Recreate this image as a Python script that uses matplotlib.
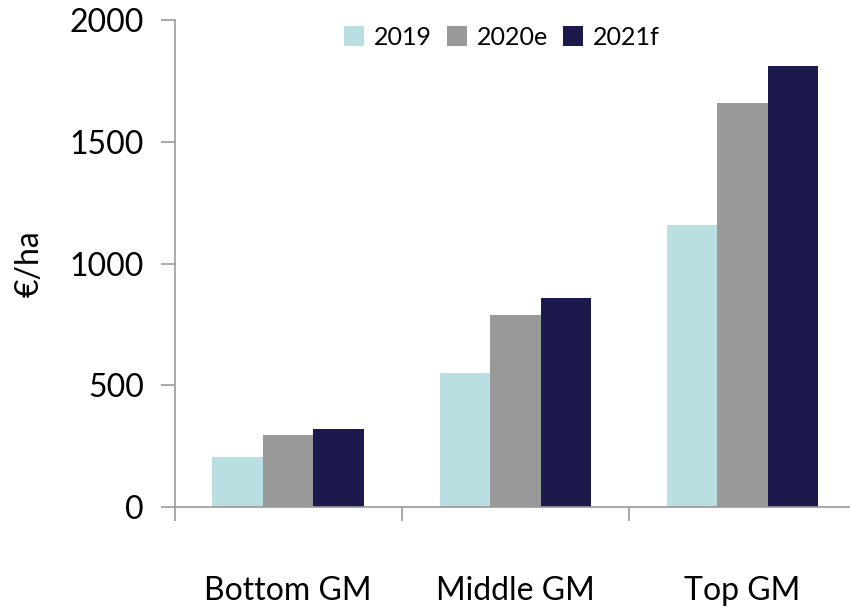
import matplotlib
matplotlib.use('Agg')
import matplotlib.pyplot as plt
import numpy as np

plt.rcParams['font.family'] = ['Lato', 'DejaVu Sans']

categories = ['Bottom GM', 'Middle GM', 'Top GM']
series = ['2019', '2020e', '2021f']
vals_2019 = [205, 550, 1160]
vals_2020e = [296, 790, 1660]
vals_2021f = [320, 860, 1810]
colors = ['#b9dfe2', '#999999', '#1c1a4d']

fig = plt.figure(figsize=(8.5, 6.1), dpi=100)
ax = fig.add_axes([0.2053, 0.1689, 0.802, 0.798])

x = np.arange(len(categories))
w = 0.222
for i, (name, vals) in enumerate(zip(series, [vals_2019, vals_2020e, vals_2021f])):
    ax.bar(x + (i - 1) * w, vals, width=w, color=colors[i], label=name)

ax.set_xlim(-0.5, 2.5)
ax.set_ylim(0, 2000)
ax.set_yticks([0, 500, 1000, 1500, 2000])
ax.set_xticks(x)
ax.set_xticklabels(categories)
ax.set_xticks([-0.5, 0.5, 1.5], minor=True)
ax.tick_params(axis='x', which='major', length=0, pad=50, labelsize=23)
ax.tick_params(axis='x', which='minor', length=10, color='#999999', width=1.2)
ax.tick_params(axis='y', length=10, color='#999999', width=1.2, pad=12, labelsize=23)

for s in ['top', 'right']:
    ax.spines[s].set_visible(False)
for s in ['left', 'bottom']:
    ax.spines[s].set_color('#999999')
    ax.spines[s].set_linewidth(1.2)

ax.set_ylabel('€/ha', fontsize=23, labelpad=18)

ax.legend(loc='center', bbox_to_anchor=(0.48, 0.965), ncol=3, frameon=False,
          fontsize=18, handlelength=0.8, handleheight=0.8, handletextpad=0.4,
          columnspacing=0.6)

fig.savefig('out.png', dpi=100)
